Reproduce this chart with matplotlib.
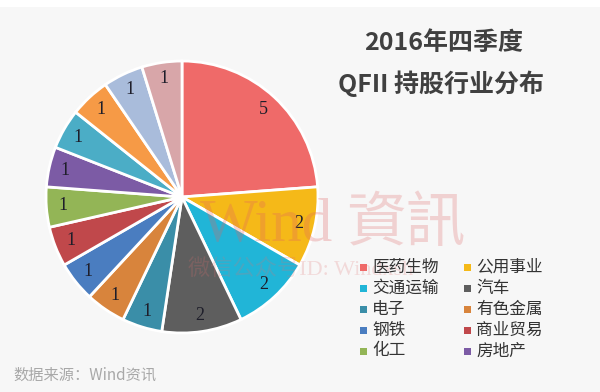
import matplotlib
matplotlib.use("Agg")
import matplotlib.pyplot as plt
from matplotlib.patches import Rectangle

plt.rcParams['font.family'] = ['Noto Sans CJK SC', 'DejaVu Sans']

# Data (clockwise from 12 o'clock)
values = [5, 2, 2, 2, 1, 1, 1, 1, 1, 1, 1, 1, 1, 1]
colors = ['#EF6A69', '#F5B918', '#21B5D7', '#5E5E5E', '#3A8EA8', '#D8843C',
          '#4A7DC0', '#C0484B', '#93B556', '#7C5BA5', '#4BADC6', '#F69A46',
          '#A9BCDB', '#D8A6A9']
legend_labels = ['医药生物', '公用事业', '交通运输', '汽车', '电子', '有色金属',
                 '钢铁', '商业贸易', '化工', '房地产']
title_lines = ['2016年四季度', 'QFII 持股行业分布']
source = '数据来源：Wind资讯'

W, H = 600, 392
fig = plt.figure(figsize=(W / 100, H / 100), dpi=100, facecolor='#F7F7F7')
# thin white band at top
fig.patches.append(Rectangle((0, 1 - 7 / H), 1, 7 / H, transform=fig.transFigure,
                             facecolor='white', edgecolor='none', zorder=0))

cx, cy, r = 182, H - 197, 136
ax = fig.add_axes([(cx - r) / W, (cy - r) / H, 2 * r / W, 2 * r / H])
ax.set_facecolor('none')
wedges, texts, autotexts = ax.pie(
    values, colors=colors, startangle=90, counterclock=False, radius=1,
    autopct=lambda p: '%d' % round(p * sum(values) / 100.0), pctdistance=0.88,
    wedgeprops=dict(edgecolor='white', linewidth=2),
    textprops=dict(family=['Liberation Serif', 'DejaVu Serif'], fontsize=13, color='#1E1E2A'))
ax.set_xlim(-1, 1)
ax.set_ylim(-1, 1)
ax.set_aspect('equal')
ax.axis('off')

# Watermark
fig.text(200 / W, 1 - 226 / H, 'Wind', family=['Liberation Serif'], fontsize=44,
         color='#E06060', alpha=0.28, va='center', ha='left', zorder=5)
fig.text(346 / W, 1 - 224 / H, '資訊', family=['Noto Sans CJK TC', 'Noto Sans CJK SC'],
         fontsize=43, color='#E07070', alpha=0.28, va='center', ha='left', zorder=5)
fig.text(188 / W, 1 - 269 / H, '微信公众号ID: Windxsh',
         family=['Liberation Serif', 'Noto Sans CJK SC'], fontsize=16,
         color='#E07070', alpha=0.22, va='center', ha='left', zorder=5)

# Title
fig.text(444 / W, 1 - 43 / H, title_lines[0], fontsize=18, fontweight='bold',
         color='#404040', ha='center', va='center')
fig.text(441 / W, 1 - 84 / H, title_lines[1], fontsize=18, fontweight='bold',
         color='#404040', ha='center', va='center')

# Legend (two columns, row-wise)
for i, lab in enumerate(legend_labels):
    row, col = i // 2, i % 2
    mx = 363 + col * 104
    my = 267 + row * 21
    fig.patches.append(Rectangle(((mx - 3.5) / W, 1 - (my + 3.5) / H), 7 / W, 7 / H,
                                 transform=fig.transFigure, facecolor=colors[i],
                                 edgecolor='none', zorder=6))
    fig.text((mx + 9) / W, 1 - my / H, lab, fontsize=12, color='#333333',
             ha='left', va='center', zorder=6)

# Source
fig.text(13 / W, 1 - 375 / H, source, fontsize=11, color='#A8A8A8',
         ha='left', va='center')

fig.savefig('out.png', dpi=100, facecolor=fig.get_facecolor())
